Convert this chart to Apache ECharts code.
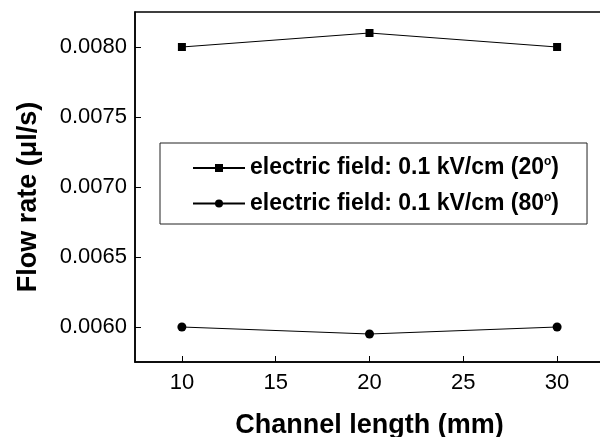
<!DOCTYPE html>
<html>
<head>
<meta charset="utf-8">
<script src="https://cdn.jsdelivr.net/npm/echarts@6/dist/echarts.min.js"></script>
<style>
  html, body { margin: 0; padding: 0; background: #fff; }
  #chart { width: 600px; height: 437px; }
</style>
</head>
<body>
<div id="chart"></div>
<script>
// channel length (mm)
var lengths = [10, 20, 30];
// flow rate (ul/s)
var flow20 = [0.0080, 0.0081, 0.0080];
var flow80 = [0.0060, 0.00595, 0.0060];
var xTicks = [10, 15, 20, 25, 30];
var yTicks = [0.0060, 0.0065, 0.0070, 0.0075, 0.0080];
var names = ['field20', 'field80'];
var labels = {
  field20: '{t|electric field: 0.1 kV/cm (20}{s|o}{t|)}',
  field80: '{t|electric field: 0.1 kV/cm (80}{s|o}{t|)}'
};

function pairs(ys) {
  return lengths.map(function (x, i) { return [x, ys[i]]; });
}

var chart = echarts.init(document.getElementById('chart'));
var font = 'Liberation Sans, Arial, sans-serif';

chart.setOption({
  animation: false,
  grid: {
    left: 135, right: -4, top: 12, bottom: 75,
    outerBoundsMode: 'none',
    show: true, borderColor: '#000', borderWidth: 1.5, containLabel: false
  },
  legend: {
    orient: 'vertical',
    left: 160, top: 143,
    padding: [13, 28, 9, 32],
    itemGap: 12,
    itemWidth: 52, itemHeight: 10,
    borderColor: '#222', borderWidth: 1,
    data: names,
    formatter: function (n) { return labels[n]; },
    textStyle: {
      rich: {
        t: { fontFamily: font, fontWeight: 'bold', fontSize: 23, color: '#000', lineHeight: 24 },
        s: { fontFamily: font, fontWeight: 'bold', fontSize: 12, color: '#000', verticalAlign: 'top', lineHeight: 24, padding: [0, 0, 10, 0] }
      }
    }
  },
  xAxis: {
    type: 'value',
    min: 7.5, max: 32.5,
    name: 'Channel length (mm)',
    nameLocation: 'middle',
    nameGap: 50,
    nameTextStyle: { fontFamily: font, fontWeight: 'bold', fontSize: 27, color: '#000' },
    axisLine: { lineStyle: { color: '#000', width: 1.5 } },
    axisTick: { inside: true, length: 6, lineStyle: { color: '#000' }, customValues: xTicks },
    axisLabel: { fontFamily: font, fontSize: 22, color: '#000', margin: 10, customValues: xTicks },
    splitLine: { show: false }
  },
  yAxis: {
    type: 'value',
    min: 0.00575, max: 0.00825,
    name: 'Flow rate (μl/s)',
    nameLocation: 'middle',
    nameGap: 93,
    nameTextStyle: { fontFamily: font, fontWeight: 'bold', fontSize: 27, color: '#000', padding: [0, 20, 0, 0] },
    axisLine: { lineStyle: { color: '#000', width: 1.5 } },
    axisTick: { inside: true, length: 6, lineStyle: { color: '#000' }, customValues: yTicks },
    axisLabel: {
      fontFamily: font, fontSize: 22, color: '#000', margin: 8, customValues: yTicks,
      formatter: function (v) { return v.toFixed(4); }
    },
    splitLine: { show: false }
  },
  series: [
    {
      name: names[0], type: 'line', data: pairs(flow20),
      symbol: 'rect', symbolSize: 8,
      itemStyle: { color: '#000' }, lineStyle: { color: '#000', width: 1 }
    },
    {
      name: names[1], type: 'line', data: pairs(flow80),
      symbol: 'circle', symbolSize: 9,
      itemStyle: { color: '#000' }, lineStyle: { color: '#000', width: 1 }
    }
  ]
});
</script>
</body>
</html>
